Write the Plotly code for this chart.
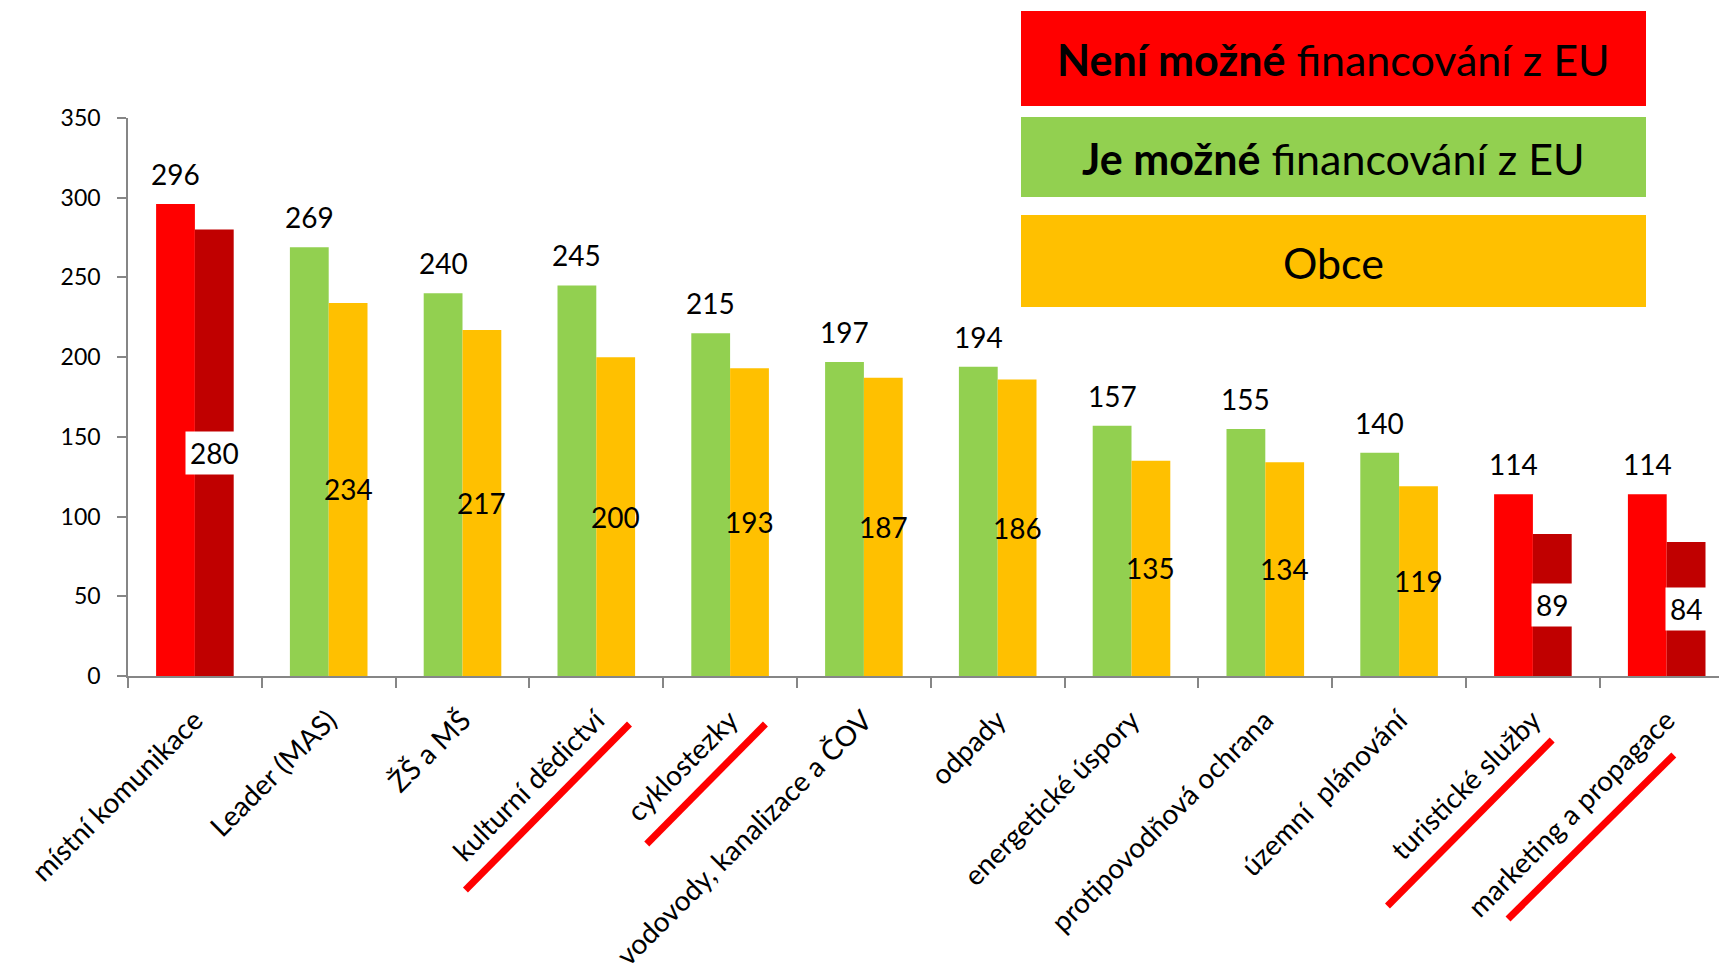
import plotly.graph_objects as go

# ---------------- data ----------------
categories = [
    "místní komunikace", "Leader (MAS)", "ŽŠ a MŠ", "kulturní dědictví",
    "cyklostezky", "vodovody, kanalizace a ČOV", "odpady", "energetické úspory",
    "protipovodňová ochrana", "územní\u00a0 plánování", "turistické služby",
    "marketing a propagace",
]
values_first = [296, 269, 240, 245, 215, 197, 194, 157, 155, 140, 114, 114]
values_second = [280, 234, 217, 200, 193, 187, 186, 135, 134, 119, 89, 84]
eu_possible = [False, True, True, True, True, True, True, True, True, True, False, False]
struck = ["kulturní dědictví", "cyklostezky", "turistické služby", "marketing a propagace"]
y_ticks = [0, 50, 100, 150, 200, 250, 300, 350]

legend_items = [
    ("<b>Není možné</b> financování z EU", "#FF0000"),
    ("<b>Je možné</b> financování z EU", "#92D050"),
    ("Obce", "#FFC000"),
]

# ---------------- style ----------------
W, H = 1719, 971
ML, MR, MT, MB = 128, 0, 118, 295
CAT_PX = 133.8
BARGAP = 0.42
FONT = "Lato, 'Noto Sans', sans-serif"
AXIS_COLOR = "#868686"
C_RED, C_DRED, C_GREEN, C_ORANGE = "#FF0000", "#C00000", "#92D050", "#FFC000"

plot_w = W - ML - MR
plot_h = H - MT - MB
x_max = -0.5 + plot_w / CAT_PX
bar_off = CAT_PX * (1 - BARGAP) / 4


def pxx(px):
    return (px - ML) / plot_w


def pxy(py):
    return (H - MB - py) / plot_h


col1 = [C_GREEN if e else C_RED for e in eu_possible]
col2 = [C_ORANGE if e else C_DRED for e in eu_possible]

fig = go.Figure()
fig.add_trace(go.Bar(x=categories, y=values_first, marker=dict(color=col1, line=dict(width=0)),
                     hoverinfo="x+y", showlegend=False))
fig.add_trace(go.Bar(x=categories, y=values_second, marker=dict(color=col2, line=dict(width=0)),
                     hoverinfo="x+y", showlegend=False))

annotations = []
for c, v1, v2, e in zip(categories, values_first, values_second, eu_possible):
    annotations.append(dict(x=c, y=v1, xref="x", yref="y", text=str(v1), showarrow=False,
                            xshift=-bar_off, yshift=30, yanchor="middle",
                            font=dict(family=FONT, size=28, color="black")))
    a = dict(x=c, y=v2 / 2, xref="x", yref="y", text=str(v2), showarrow=False,
             xshift=bar_off, yanchor="middle",
             font=dict(family=FONT, size=28, color="black"))
    if not e:
        a.update(bgcolor="white", borderpad=4)
    annotations.append(a)

shapes = []
# legend boxes
legend_boxes = [(11, 106), (117, 197), (215, 307)]
for (label, color), (y0, y1) in zip(legend_items, legend_boxes):
    shapes.append(dict(type="rect", xref="paper", yref="paper",
                       x0=pxx(1021), x1=pxx(1646), y0=pxy(y1), y1=pxy(y0),
                       fillcolor=color, line=dict(width=0), layer="above"))
    annotations.append(dict(xref="paper", yref="paper", x=pxx(1333), y=pxy((y0 + y1) / 2 + 1),
                            text=label, showarrow=False, xanchor="center", yanchor="middle",
                            font=dict(family=FONT, size=43, color="black")))

# red strike lines under some category labels (relative to category index)
strike_geom = {
    "kulturní dědictví": (-0.978, 890, 0.248, 724),
    "cyklostezky": (-0.623, 844, 0.264, 724),
    "turistické služby": (-1.087, 906, 0.144, 740),
    "marketing a propagace": (-1.186, 919, 0.053, 755),
}
for name in struck:
    i = categories.index(name)
    dx0, py0, dx1, py1 = strike_geom[name]
    shapes.append(dict(type="line", xref="x", yref="paper",
                       x0=i + dx0, x1=i + dx1, y0=pxy(py0), y1=pxy(py1),
                       line=dict(color="#FF0000", width=7)))

fig.update_layout(
    width=W, height=H,
    margin=dict(l=ML, r=MR, t=MT, b=MB, pad=0, autoexpand=False),
    paper_bgcolor="white", plot_bgcolor="white",
    barmode="group", bargap=BARGAP, bargroupgap=0,
    font=dict(family=FONT, color="black"),
    annotations=annotations, shapes=shapes,
    showlegend=False,
)
fig.update_xaxes(
    type="category", range=[-0.5, x_max], automargin=False,
    showline=True, linecolor=AXIS_COLOR, linewidth=1.5,
    ticks="outside", tickson="boundaries", ticklen=10, tickcolor=AXIS_COLOR, tickwidth=1.5,
    tickangle=-45, tickfont=dict(family=FONT, size=28, color="black"),
    ticklabelstandoff=15,
    showgrid=False, zeroline=False,
)
fig.update_yaxes(
    range=[0, 350], tickvals=y_ticks, automargin=False,
    showline=True, linecolor=AXIS_COLOR, linewidth=1.5,
    ticks="outside", ticklen=9, tickcolor=AXIS_COLOR, tickwidth=1.5,
    tickfont=dict(family=FONT, size=23, color="black"),
    ticklabelstandoff=12,
    showgrid=False, zeroline=False,
)

fig.write_html("out.html", config={"displayModeBar": False})
